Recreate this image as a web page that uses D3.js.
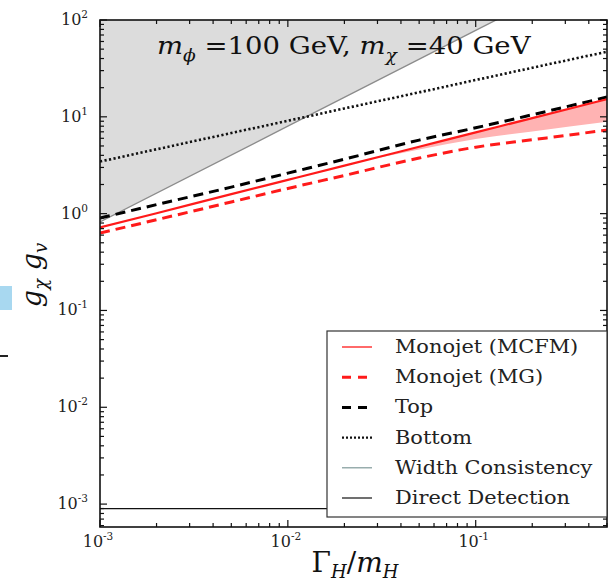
<!DOCTYPE html>
<html><head><meta charset="utf-8">
<script src="https://cdn.jsdelivr.net/npm/d3@7"></script>
<style>body{margin:0;background:#fff}svg{display:block}</style>
</head><body>
<svg id="c" width="615" height="584"></svg>
<script>
// ---- data ----
const xGrid      = [0.001, 0.002, 0.005, 0.01, 0.02, 0.05, 0.1, 0.2, 0.5];
const mcfm       = [0.72, 1.01, 1.59, 2.23, 3.13, 4.91, 6.9, 9.7, 15.2];
const mg         = [0.63, 0.865, 1.32, 1.82, 2.48, 3.75, 4.86, 5.79, 7.3];
const topLim     = [0.90, 1.24, 1.88, 2.62, 3.65, 5.75, 7.7, 10.5, 16.0];
const bottomLim  = [3.45, 4.62, 6.8, 9.1, 12.2, 17.9, 24.0, 32.1, 47.0];
const bandX      = [0.03, 0.05, 0.1, 0.2, 0.5];
const bandLow    = [3.75, 4.6, 5.9, 7.07, 8.9];
const bandHigh   = [3.75, 4.91, 6.9, 9.7, 15.2];
const widthX     = [0.001, 0.01, 0.1, 0.5];
const widthY     = [0.82, 8.0, 78, 385];
const directDet  = 9.0e-4;
const xMajor     = [-3, -2, -1];
const yMajor     = [-3, -2, -1, 0, 1, 2];
const legendLabels = ["Monojet (MCFM)", "Monojet (MG)", "Top", "Bottom", "Width Consistency", "Direct Detection"];

const svg = d3.select("#c");
const L = 100, R = 607, T = 20, B = 527;
const x = d3.scaleLog().domain([1e-3, 0.5]).range([L, R]);
const y = d3.scaleLog().domain([5.8e-4, 100]).range([B, T]);

// decorative stray marks at far left (from original figure crop)
svg.append("rect").attr("x", 0).attr("y", 286).attr("width", 12).attr("height", 24).attr("fill", "#a8d8f0");
svg.append("rect").attr("x", 0).attr("y", 355).attr("width", 8).attr("height", 2).attr("fill", "#222");

svg.append("defs").append("clipPath").attr("id", "clip")
  .append("rect").attr("x", L).attr("y", T).attr("width", R - L).attr("height", B - T);
const g = svg.append("g").attr("clip-path", "url(#clip)");

// Width consistency excluded region
const wpts = widthX.map((d, i) => [d, widthY[i]]);
const area = d3.area().x(d => x(d[0])).y0(T).y1(d => y(d[1]));
g.append("path").datum(wpts).attr("d", area).attr("fill", "#dcdcdc");
const straight = d3.line().x(d => x(d[0])).y(d => y(d[1]));
const line = d3.line().x(d => x(d[0])).y(d => y(d[1])).curve(d3.curveMonotoneX);
g.append("path").datum(wpts).attr("d", straight).attr("fill", "none").attr("stroke", "#8c8c8c").attr("stroke-width", 1.3);

// pink band
const bandPts = bandX.map((d, i) => [d, bandLow[i], bandHigh[i]]);
g.append("path").datum(bandPts)
  .attr("d", d3.area().x(d => x(d[0])).y0(d => y(d[1])).y1(d => y(d[2])).curve(d3.curveMonotoneX))
  .attr("fill", "#ffb3b3");

const series = (vals) => xGrid.map((d, i) => [d, vals[i]]);
g.append("path").datum(series(bottomLim)).attr("d", line).attr("fill", "none")
  .attr("stroke", "#111").attr("stroke-width", 2.6).attr("stroke-dasharray", "2.2,2.4");
g.append("path").datum(series(topLim)).attr("d", line).attr("fill", "none")
  .attr("stroke", "#000").attr("stroke-width", 3).attr("stroke-dasharray", "10,6");
g.append("path").datum(series(mcfm)).attr("d", line).attr("fill", "none")
  .attr("stroke", "#ff1a1a").attr("stroke-width", 2.2);
g.append("path").datum(series(mg)).attr("d", line).attr("fill", "none")
  .attr("stroke", "#ff1a1a").attr("stroke-width", 3).attr("stroke-dasharray", "10,6");
g.append("line").attr("x1", L).attr("x2", R).attr("y1", y(directDet)).attr("y2", y(directDet))
  .attr("stroke", "#111").attr("stroke-width", 1.3);

// ticks
const ax = svg.append("g").attr("stroke", "#111").attr("stroke-width", 1.2);
const xMinor = [], yMinor = [];
for (let e = -3; e <= 0; e++) for (let k = 2; k <= 9; k++) { const v = k * Math.pow(10, e); if (v <= 0.5) xMinor.push(v); }
for (let e = -4; e <= 1; e++) for (let k = 2; k <= 9; k++) { const v = k * Math.pow(10, e); if (v >= 5.8e-4 && v <= 100) yMinor.push(v); }
xMajor.forEach(e => { const p = x(Math.pow(10, e));
  ax.append("line").attr("x1", p).attr("x2", p).attr("y1", B).attr("y2", B - 7);
  ax.append("line").attr("x1", p).attr("x2", p).attr("y1", T).attr("y2", T + 7); });
xMinor.forEach(v => { const p = x(v);
  ax.append("line").attr("x1", p).attr("x2", p).attr("y1", B).attr("y2", B - 4);
  ax.append("line").attr("x1", p).attr("x2", p).attr("y1", T).attr("y2", T + 4); });
yMajor.forEach(e => { const p = y(Math.pow(10, e));
  ax.append("line").attr("x1", L).attr("x2", L + 7).attr("y1", p).attr("y2", p);
  ax.append("line").attr("x1", R).attr("x2", R - 7).attr("y1", p).attr("y2", p); });
yMinor.forEach(v => { const p = y(v);
  ax.append("line").attr("x1", L).attr("x2", L + 4).attr("y1", p).attr("y2", p);
  ax.append("line").attr("x1", R).attr("x2", R - 4).attr("y1", p).attr("y2", p); });

svg.append("rect").attr("x", L).attr("y", T).attr("width", R - L).attr("height", B - T)
  .attr("fill", "none").attr("stroke", "#111").attr("stroke-width", 1.6);

// tick labels
const lblFont = "DejaVu Serif, Liberation Serif, serif";
function powLabel(sel, e, px, py, anchor) {
  const t = sel.append("text").attr("x", px).attr("y", py).attr("text-anchor", anchor)
    .attr("font-family", lblFont).attr("font-size", 16).attr("fill", "#222");
  t.append("tspan").text("10");
  t.append("tspan").attr("font-size", 10.5).attr("dy", -7).text(String(e));
}
yMajor.forEach(e => powLabel(svg, e, 88, y(Math.pow(10, e)) + 5, "end"));
xMajor.forEach(e => powLabel(svg, e, x(Math.pow(10, e)) - 2, 547, "middle"));

// axis titles
const mathFont = "DejaVu Serif, Liberation Serif, serif";
const xt = svg.append("text").attr("x", 355).attr("y", 572).attr("text-anchor", "middle")
  .attr("font-family", mathFont).attr("font-size", 28).attr("fill", "#111");
xt.append("tspan").text("Γ");
xt.append("tspan").attr("font-style", "italic").attr("font-size", 18).attr("dy", 6).text("H");
xt.append("tspan").attr("dy", -6).text("/");
xt.append("tspan").attr("font-style", "italic").text("m");
xt.append("tspan").attr("font-style", "italic").attr("font-size", 18).attr("dy", 6).text("H");

const yt = svg.append("text").attr("transform", "translate(41,275) rotate(-90)").attr("text-anchor", "middle")
  .attr("font-family", mathFont).attr("font-size", 27).attr("font-style", "italic").attr("fill", "#111");
yt.append("tspan").text("g");
yt.append("tspan").attr("font-size", 18).attr("dy", 6).text("χ");
yt.append("tspan").attr("dy", -6).text(" g");
yt.append("tspan").attr("font-size", 18).attr("dy", 6).text("v");

// annotation
const ann = svg.append("text").attr("transform", "translate(157,54) scale(1.1,1)")
  .attr("font-family", mathFont).attr("font-size", 25).attr("fill", "#111");
ann.append("tspan").attr("font-style", "italic").text("m");
ann.append("tspan").attr("font-style", "italic").attr("font-size", 17).attr("dy", 7).text("ϕ");
ann.append("tspan").attr("dy", -7).text(" =100 GeV, ");
ann.append("tspan").attr("font-style", "italic").text("m");
ann.append("tspan").attr("font-style", "italic").attr("font-size", 17).attr("dy", 7).text("χ");
ann.append("tspan").attr("dy", -7).text(" =40 GeV");

// legend
const lg = svg.append("g");
lg.append("rect").attr("x", 327).attr("y", 331).attr("width", 280).attr("height", 186)
  .attr("fill", "#fff").attr("stroke", "#333").attr("stroke-width", 1.2);
const legStyles = [
  {c: "#ff1a1a", w: 1.3, d: null},
  {c: "#ff1a1a", w: 3, d: "9,7"},
  {c: "#000", w: 3, d: "9,7"},
  {c: "#111", w: 2.4, d: "2,2"},
  {c: "#7f9999", w: 1.2, d: null},
  {c: "#111", w: 1.2, d: null}
];
legendLabels.forEach((lab, i) => {
  const yy = 347 + i * 30.2;
  const s = legStyles[i];
  const ln = lg.append("line").attr("x1", 342).attr("x2", 372).attr("y1", yy).attr("y2", yy)
    .attr("stroke", s.c).attr("stroke-width", s.w);
  if (s.d) ln.attr("stroke-dasharray", s.d);
  lg.append("text").attr("transform", `translate(395,${yy + 6}) scale(1.16,1)`).attr("font-family", mathFont)
    .attr("font-size", 18).attr("fill", "#222").text(lab);
});
</script>
</body></html>
